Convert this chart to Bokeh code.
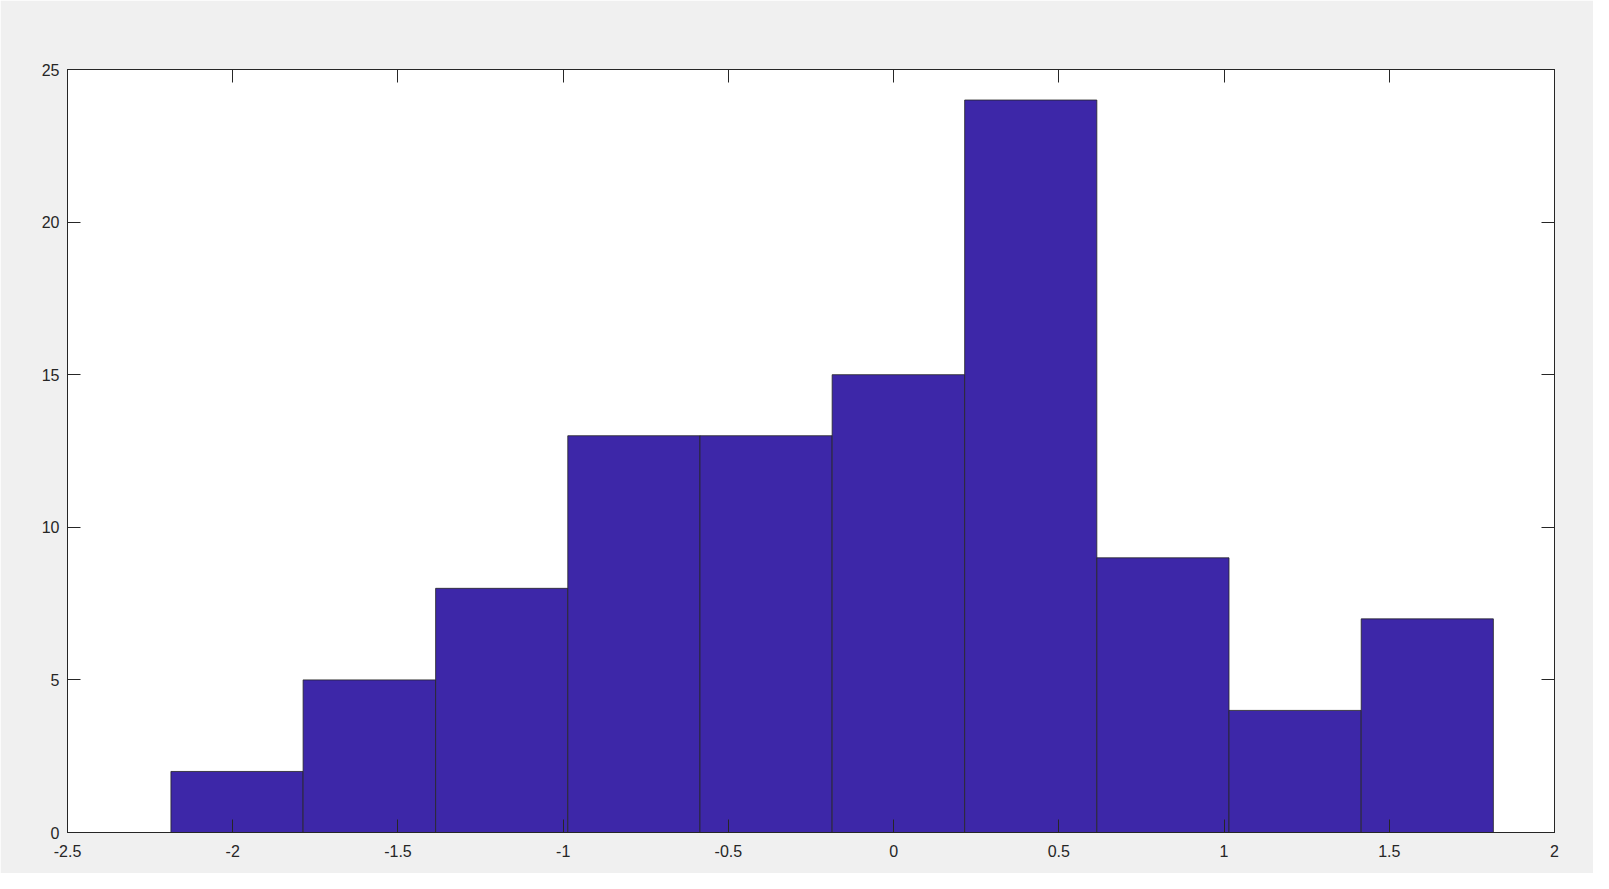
from bokeh.plotting import figure
from bokeh.models import Range1d, LinearAxis, FixedTicker
from bokeh.embed import file_html
from bokeh.resources import INLINE

# Histogram data
bin_edges = [-2.187, -1.787, -1.386, -0.986, -0.586, -0.186, 0.215, 0.615, 1.015, 1.415, 1.815]
counts = [2, 5, 8, 13, 13, 15, 24, 9, 4, 7]

x_ticks = [-2.5, -2, -1.5, -1, -0.5, 0, 0.5, 1, 1.5, 2]
x_tick_labels = ["-2.5", "-2", "-1.5", "-1", "-0.5", "0", "0.5", "1", "1.5", "2"]
y_ticks = [0, 5, 10, 15, 20, 25]
y_tick_labels = ["0", "5", "10", "15", "20", "25"]

BG = "#f0f0f0"
INK = "#262626"
FONT = "Liberation Sans"

p = figure(width=1593, height=873, output_backend="svg", toolbar_location=None,
           x_range=Range1d(-2.5, 2), y_range=Range1d(0, 25),
           x_axis_location=None, y_axis_location=None,
           min_border_left=67, min_border_right=39,
           min_border_top=69, min_border_bottom=41)
p.border_fill_color = BG
p.background_fill_color = "white"
p.outline_line_color = INK
p.outline_line_width = 1
p.xgrid.visible = False
p.ygrid.visible = False

p.quad(left=bin_edges[:-1], right=bin_edges[1:], top=counts, bottom=0,
       fill_color="#3d27a8", line_color="#262626", line_width=1, line_alpha=0.8)

def style(ax, ticks, labels, show_labels):
    ax.ticker = FixedTicker(ticks=ticks)
    ax.major_label_overrides = {t: l for t, l in zip(ticks, labels)}
    ax.major_tick_in = 13
    ax.major_tick_out = 0
    ax.minor_tick_line_color = None
    ax.major_tick_line_color = INK
    ax.major_tick_line_width = 1
    ax.axis_line_color = INK
    ax.axis_line_width = 1
    ax.major_label_text_font = FONT
    ax.major_label_text_font_size = "16px" if show_labels else "0px"
    ax.major_label_text_color = INK

bottom = LinearAxis()
style(bottom, x_ticks, x_tick_labels, True)
bottom.major_label_standoff = 12
p.add_layout(bottom, "below")

left = LinearAxis()
style(left, y_ticks, y_tick_labels, True)
left.major_label_standoff = 8
p.add_layout(left, "left")

top = LinearAxis()
style(top, x_ticks, [""] * len(x_ticks), False)
top.major_label_standoff = 0
p.add_layout(top, "above")

right = LinearAxis()
style(right, y_ticks, [""] * len(y_ticks), False)
right.major_label_standoff = 0
p.add_layout(right, "right")

html = file_html(p, INLINE)
html = html.replace("<body>", '<body style="background:#f0f0f0; margin:0;">', 1)
open("out.html", "w").write(html)
